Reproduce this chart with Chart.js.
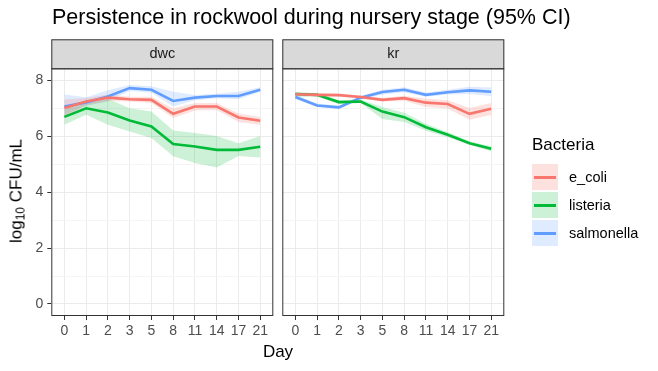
<!DOCTYPE html>
<html>
<head>
<meta charset="utf-8">
<script src="https://cdn.jsdelivr.net/npm/chart.js@4"></script>
<style>
  body { margin: 0; background: #fff; font-family: "Liberation Sans", Arial, sans-serif; }
  #wrap { position: relative; width: 658px; height: 371px; overflow: hidden; }
  #wrap canvas { position: absolute; left: 0; top: 0; }
  .txt { position: absolute; white-space: nowrap; color: #000; }
  #title { left: 52px; top: 5px; font-size: 21.5px; }
  #ytitle { left: 17px; top: 191px; font-size: 17px; transform: translate(-50%, -50%) rotate(-90deg); }
  #ytitle sub { font-size: 12px; vertical-align: -3px; }
  #xtitle { left: 278px; top: 352px; font-size: 17px; transform: translate(-50%, -50%); }
  #legend { position: absolute; left: 532px; top: 135px; }
  #legend .lt { font-size: 17px; margin-bottom: 8px; }
  .row { display: flex; align-items: center; height: 28px; }
  .key { width: 26px; height: 26px; position: relative; margin-right: 11px; }
  .key i { position: absolute; left: 2px; right: 2px; top: 11.5px; height: 3px; }
  .row span { font-size: 14.5px; }
</style>
</head>
<body>
<div id="wrap">
  <canvas id="dwc" width="658" height="371"></canvas>
  <canvas id="kr" width="658" height="371"></canvas>
  <div id="title" class="txt">Persistence in rockwool during nursery stage (95% CI)</div>
  <div id="ytitle" class="txt">log<sub>10</sub> CFU/mL</div>
  <div id="xtitle" class="txt">Day</div>
  <div id="legend"><div class="lt">Bacteria</div></div>
</div>
<script>
const days = ["0", "1", "2", "3", "5", "8", "11", "14", "17", "21"];
const bacteria = ["e_coli", "listeria", "salmonella"];
const colors = ["#F8766D", "#00BA38", "#619CFF"];
const bands = ["rgba(248,118,109,0.22)", "rgba(0,186,56,0.2)", "rgba(97,156,255,0.2)"];
const yTicks = [0, 1, 2, 3, 4, 5, 6, 7, 8];

// dwc panel
const dwcEcoli = [7.02, 7.25, 7.39, 7.33, 7.31, 6.81, 7.07, 7.07, 6.68, 6.56];
const dwcEcoliLo = [6.72, 7.12, 7.27, 7.25, 7.20, 6.66, 6.93, 6.95, 6.52, 6.42];
const dwcEcoliHi = [7.32, 7.38, 7.50, 7.42, 7.42, 7.00, 7.20, 7.20, 6.82, 6.70];
const dwcListeria = [6.70, 7.01, 6.86, 6.57, 6.36, 5.73, 5.64, 5.52, 5.52, 5.63];
const dwcListeriaLo = [6.42, 6.78, 6.42, 6.18, 5.94, 5.29, 5.05, 4.89, 5.30, 5.25];
const dwcListeriaHi = [6.97, 7.20, 7.35, 7.01, 6.89, 6.21, 6.12, 6.02, 5.76, 6.02];
const dwcSalmonella = [7.07, 7.22, 7.43, 7.73, 7.67, 7.27, 7.39, 7.45, 7.45, 7.67];
const dwcSalmonellaLo = [6.78, 7.10, 7.25, 7.63, 7.56, 7.07, 7.30, 7.37, 7.33, 7.60];
const dwcSalmonellaHi = [7.50, 7.40, 7.65, 7.84, 7.80, 7.60, 7.48, 7.53, 7.60, 7.76];

// kr panel
const krEcoli = [7.51, 7.49, 7.48, 7.41, 7.31, 7.37, 7.21, 7.16, 6.81, 6.99];
const krEcoliLo = [7.45, 7.44, 7.43, 7.35, 7.25, 7.28, 7.05, 7.00, 6.60, 6.77];
const krEcoliHi = [7.57, 7.54, 7.53, 7.47, 7.38, 7.46, 7.35, 7.30, 7.02, 7.20];
const krListeria = [7.52, 7.49, 7.23, 7.25, 6.89, 6.69, 6.33, 6.06, 5.76, 5.56];
const krListeriaLo = [7.42, 7.42, 7.15, 7.20, 6.62, 6.52, 6.20, 5.97, 5.70, 5.46];
const krListeriaHi = [7.60, 7.55, 7.30, 7.32, 7.05, 6.85, 6.45, 6.15, 5.83, 5.64];
const krSalmonella = [7.41, 7.11, 7.04, 7.39, 7.59, 7.67, 7.49, 7.58, 7.65, 7.60];
const krSalmonellaLo = [7.33, 7.05, 6.98, 7.32, 7.50, 7.58, 7.42, 7.50, 7.52, 7.45];
const krSalmonellaHi = [7.48, 7.18, 7.10, 7.46, 7.67, 7.76, 7.57, 7.67, 7.78, 7.75];

const FONT = "'Liberation Sans', Arial, sans-serif";
const pts = (arr) => arr.map((v, i) => ({ x: i, y: v }));

// panel border + grey strip on top
const panelPlugin = {
  id: "panel",
  afterDraw(chart, args, opts) {
    const { ctx, chartArea: a } = chart;
    ctx.save();
    ctx.fillStyle = "#D9D9D9";
    ctx.fillRect(a.left, a.top - 29, a.right - a.left, 29);
    ctx.strokeStyle = "#333333";
    ctx.lineWidth = 1;
    ctx.strokeRect(a.left + 0.5, a.top - 29 + 0.5, a.right - a.left - 1, 29);
    ctx.strokeRect(a.left + 0.5, a.top + 0.5, a.right - a.left - 1, a.bottom - a.top - 1);
    ctx.fillStyle = "#1A1A1A";
    ctx.font = "14.5px " + FONT;
    ctx.textAlign = "center";
    ctx.textBaseline = "middle";
    ctx.fillText(opts.label, (a.left + a.right) / 2, a.top - 14);
    ctx.restore();
  }
};

function makePanel(id, label, lines, los, his, left, right, showY) {
  const datasets = [];
  bacteria.forEach((b, k) => {
    datasets.push({ data: pts(his[k]), borderWidth: 0, pointRadius: 0, fill: "+1", backgroundColor: bands[k], order: 2 });
    datasets.push({ data: pts(los[k]), borderWidth: 0, pointRadius: 0, fill: false, order: 2 });
  });
  bacteria.forEach((b, k) => {
    datasets.push({ label: b, data: pts(lines[k]), borderColor: colors[k], borderWidth: 2.6, pointRadius: 0, tension: 0, fill: false, order: 1 });
  });
  return new Chart(document.getElementById(id), {
    type: "line",
    data: { datasets },
    plugins: [panelPlugin],
    options: {
      responsive: false,
      animation: false,
      layout: { padding: { left: left - (showY ? 45 : 0), right: 658 - right, top: 68.3, bottom: 371 - 316 - 30 } },
      plugins: { legend: { display: false }, tooltip: { enabled: false }, panel: { label } },
      scales: {
        x: {
          type: "linear", min: -0.6, max: 9.6,
          afterBuildTicks: (s) => { s.ticks = days.map((d, i) => ({ value: i })); },
          afterFit: (s) => { s.height = 30; },
          ticks: { callback: (v) => days[v], color: "#4D4D4D", font: { family: FONT, size: 14 }, padding: 3, maxRotation: 0, autoSkip: false },
          grid: { color: "#EBEBEB", lineWidth: 1, tickColor: "#333333", tickLength: 4, tickWidth: 1 },
          border: { display: false }
        },
        y: {
          type: "linear", min: -0.43, max: 8.44,
          afterBuildTicks: (s) => { s.ticks = yTicks.map((v) => ({ value: v })); },
          afterFit: (s) => { s.width = showY ? 45 : 0; },
          ticks: { display: showY, callback: (v) => (v % 2 === 0 ? String(v) : ""), color: "#4D4D4D", font: { family: FONT, size: 14 }, padding: 4 },
          grid: {
            color: (c) => (c.tick && c.tick.value % 2 === 0 ? "#EBEBEB" : "#F4F4F4"),
            lineWidth: 1,
            drawTicks: showY,
            tickColor: (c) => (c.tick && c.tick.value % 2 === 0 ? "#333333" : "rgba(0,0,0,0)"),
            tickLength: 4, tickWidth: 1
          },
          border: { display: false }
        }
      }
    }
  });
}

makePanel("dwc", "dwc",
  [dwcEcoli, dwcListeria, dwcSalmonella],
  [dwcEcoliLo, dwcListeriaLo, dwcSalmonellaLo],
  [dwcEcoliHi, dwcListeriaHi, dwcSalmonellaHi],
  51.3, 273.3, true);

makePanel("kr", "kr",
  [krEcoli, krListeria, krSalmonella],
  [krEcoliLo, krListeriaLo, krSalmonellaLo],
  [krEcoliHi, krListeriaHi, krSalmonellaHi],
  282.3, 504.3, false);

// legend
const legend = document.getElementById("legend");
bacteria.forEach((b, k) => {
  const row = document.createElement("div");
  row.className = "row";
  row.innerHTML = `<div class="key" style="background:${bands[k]}"><i style="background:${colors[k]}"></i></div><span>${b}</span>`;
  legend.appendChild(row);
});
</script>
</body>
</html>
